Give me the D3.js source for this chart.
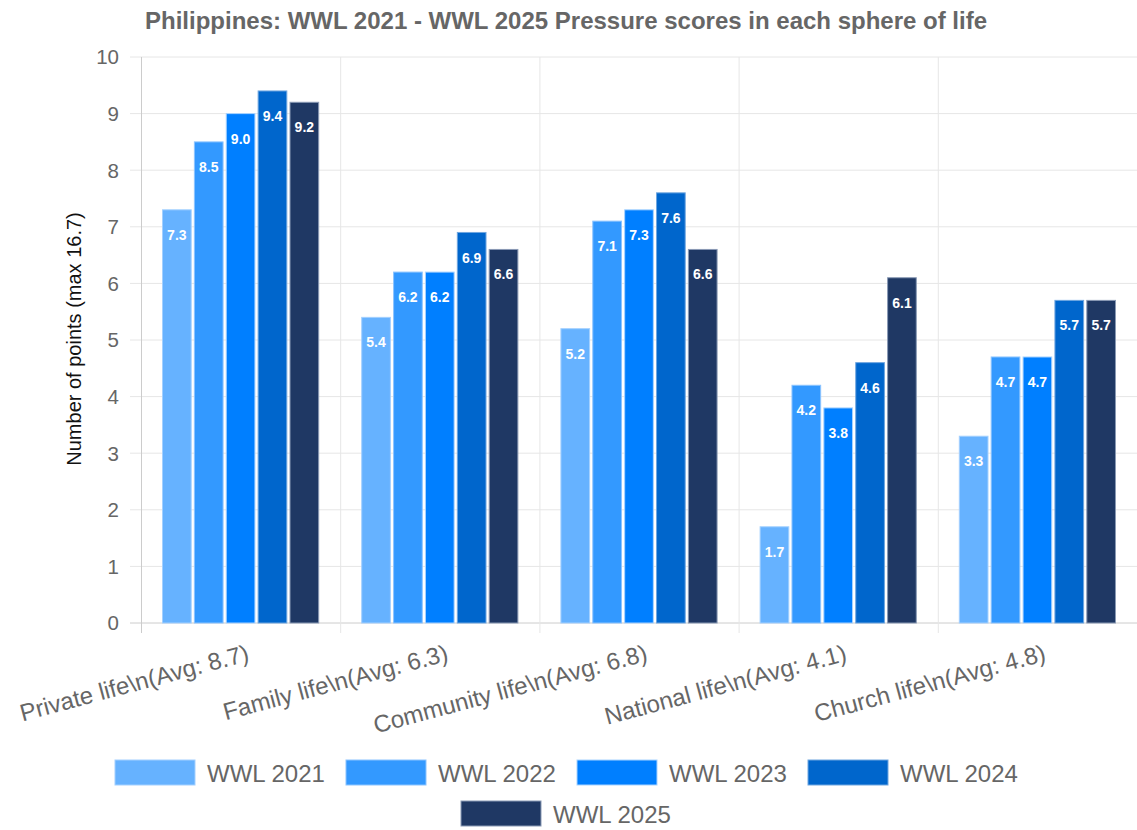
<!DOCTYPE html>
<html><head><meta charset="utf-8">
<script src="https://cdn.jsdelivr.net/npm/d3@7/dist/d3.min.js"></script>
<style>body{margin:0;background:#fff;}svg{display:block;font-family:"Liberation Sans",Arial,Helvetica,sans-serif;}</style>
</head><body>
<svg id="c" width="1137" height="830"></svg>
<script>
const categories = ["Private life\\n(Avg: 8.7)","Family life\\n(Avg: 6.3)","Community life\\n(Avg: 6.8)","National life\\n(Avg: 4.1)","Church life\\n(Avg: 4.8)"];
const seriesNames = ["WWL 2021","WWL 2022","WWL 2023","WWL 2024","WWL 2025"];
const wwl2021 = [7.3,5.4,5.2,1.7,3.3];
const wwl2022 = [8.5,6.2,7.1,4.2,4.7];
const wwl2023 = [9.0,6.2,7.3,3.8,4.7];
const wwl2024 = [9.4,6.9,7.6,4.6,5.7];
const wwl2025 = [9.2,6.6,6.6,6.1,5.7];
const colors = ["#66b2ff","#3399ff","#007fff","#0066cc","#1f3864"];
const borders = ["#a3d0ff","#8cc4ff","#a8d3ff","#6fa6e0","#8a9ab5"];
const yTicks = [0,1,2,3,4,5,6,7,8,9,10];
const series = [wwl2021,wwl2022,wwl2023,wwl2024,wwl2025];

const svg = d3.select("#c");
const L=141, R=1137, T=57, B=623;
const x = d3.scaleBand().domain(categories).range([L,R]).paddingInner(0).paddingOuter(0);
const x1 = d3.scaleBand().domain(seriesNames).range([x.bandwidth()*0.1, x.bandwidth()*0.9]).paddingInner(0.1).paddingOuter(0.05);
const y = d3.scaleLinear().domain([0,10]).range([B,T]);

// horizontal grid
svg.append("g").selectAll("line").data(yTicks).join("line")
  .attr("x1",130).attr("x2",R).attr("y1",d=>y(d)).attr("y2",d=>y(d))
  .attr("stroke",d=>d===0?"#ccc":"#e6e6e6").attr("stroke-width",1);
// vertical grid
svg.append("g").selectAll("line").data(categories).join("line")
  .attr("x1",d=>x(d)+0.5).attr("x2",d=>x(d)+0.5).attr("y1",T).attr("y2",B+10)
  .attr("stroke",(d,i)=>i===0?"#ccc":"#e6e6e6").attr("stroke-width",1);

// y tick labels
svg.append("g").selectAll("text").data(yTicks).join("text")
  .attr("x",119).attr("y",d=>y(d)).attr("dy","0.36em").attr("text-anchor","end")
  .attr("fill","#666").attr("font-size",20.5).text(d=>d);

// y axis title
svg.append("text").attr("transform",`translate(81,339) rotate(-90)`)
  .attr("text-anchor","middle").attr("font-size",20).attr("fill","#111")
  .text("Number of points (max 16.7)");

// title
svg.append("text").attr("x",566).attr("y",29).attr("text-anchor","middle")
  .attr("font-size",24).attr("font-weight","bold").attr("fill","#666")
  .text("Philippines: WWL 2021 - WWL 2025 Pressure scores in each sphere of life");

// bars
const g = svg.append("g").selectAll("g").data(categories).join("g")
  .attr("transform",d=>`translate(${x(d)},0)`);
g.selectAll("rect").data((d,i)=>series.map((s,j)=>({k:seriesNames[j],v:s[i],j}))).join("rect")
  .attr("x",d=>x1(d.k)).attr("width",x1.bandwidth())
  .attr("y",d=>y(d.v)).attr("height",d=>B-y(d.v))
  .attr("fill",d=>colors[d.j]).attr("stroke",d=>borders[d.j]).attr("stroke-width",1);
g.selectAll("text").data((d,i)=>series.map((s,j)=>({k:seriesNames[j],v:s[i],j}))).join("text")
  .attr("x",d=>x1(d.k)+x1.bandwidth()/2).attr("y",d=>y(d.v)+25).attr("dy","0.36em")
  .attr("text-anchor","middle").attr("fill","#fff").attr("font-weight","bold").attr("font-size",14)
  .text(d=>d.v.toFixed(1));

// x labels
svg.append("g").selectAll("text").data(categories).join("text")
  .attr("transform",d=>`translate(${x(d)+x.bandwidth()/2+5},${B+20}) rotate(-15)`)
  .attr("text-anchor","end").attr("dy","0.75em").attr("font-size",24).attr("fill","#666")
  .text(d=>d);

// legend
const leg = [
  {n:seriesNames[0],c:colors[0],b:borders[0],x:115,y:760},
  {n:seriesNames[1],c:colors[1],b:borders[1],x:346,y:760},
  {n:seriesNames[2],c:colors[2],b:borders[2],x:577,y:760},
  {n:seriesNames[3],c:colors[3],b:borders[3],x:808,y:760},
  {n:seriesNames[4],c:colors[4],b:borders[4],x:461,y:801}
];
const lg = svg.append("g").selectAll("g").data(leg).join("g").attr("transform",d=>`translate(${d.x},${d.y})`);
lg.append("rect").attr("width",80).attr("height",25).attr("fill",d=>d.c).attr("stroke",d=>d.b);
lg.append("text").attr("x",92).attr("y",13).attr("dy","0.36em").attr("font-size",24).attr("fill","#666").text(d=>d.n);
</script>
</body></html>
